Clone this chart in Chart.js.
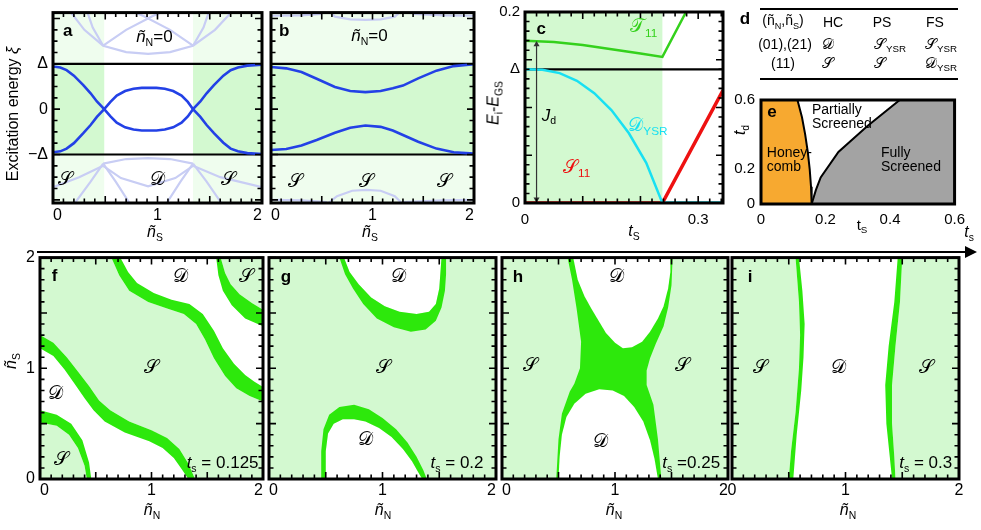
<!DOCTYPE html>
<html lang="en">
<head>
<meta charset="UTF-8" />
<title>YSR screening phases</title>
<script src="https://cdn.jsdelivr.net/npm/chart.js@4.4.0/dist/chart.umd.min.js"></script>
<style>
  body { margin: 0; background: #fff; }
  #fig { position: relative; width: 981px; height: 530px; overflow: hidden; background: #fff;
         font-family: 'Liberation Sans', Arial, sans-serif; color: #000; }
  #fig canvas { position: absolute; }
  .t { position: absolute; white-space: nowrap; line-height: 1; }
  .t sub { font-size: 65%; vertical-align: -0.35em; }
  .sc { font-family: 'DejaVu Serif', 'DejaVu Sans', serif; }
  .rule { position: absolute; background: #000; }
</style>
</head>
<body>
<div id="fig"></div>
<script>
// ---- panels a, b : sub-gap levels vs n_S at n_N = 0 (energy in units of Delta)
const DELTA = 1;
const nTicks = [0, 1, 2];
const gapTicks = [-1, 0, 1];
const gapLabels = ['\u2212\u0394', '0', '\u0394'];
const abYRange = [-2.07, 2.13];
const aSinglet = [[0, 0.49], [1.34, 2]];
const aLevelUp = [[0,0.94],[0.07,0.92],[0.13,0.86],[0.2,0.74],[0.29,0.53],[0.36,0.35],[0.42,0.17],[0.49,0],[0.55,-0.16],[0.61,-0.3],[0.69,-0.4],[0.77,-0.45],[0.85,-0.47],[0.92,-0.47],[0.99,-0.47],[1.07,-0.45],[1.15,-0.4],[1.23,-0.3],[1.29,-0.16],[1.34,0],[1.41,0.17],[1.47,0.35],[1.54,0.53],[1.63,0.74],[1.7,0.86],[1.77,0.92],[1.86,0.96],[2,0.98]];
const aLevelDn = [[0,-0.95],[0.07,-0.93],[0.13,-0.87],[0.2,-0.75],[0.29,-0.53],[0.36,-0.35],[0.42,-0.17],[0.49,0],[0.55,0.16],[0.61,0.3],[0.69,0.4],[0.77,0.45],[0.85,0.47],[0.92,0.47],[0.99,0.47],[1.07,0.45],[1.15,0.4],[1.23,0.3],[1.29,0.16],[1.34,0],[1.41,-0.17],[1.47,-0.35],[1.54,-0.53],[1.63,-0.74],[1.7,-0.87],[1.77,-0.93],[1.86,-0.97],[2,-0.99]];
const aGhost = [
  [[0.16,2.17],[0.3,1.75],[0.48,1.4],[0.7,1.26],[0.91,1.22],[1.12,1.26],[1.34,1.4],[1.55,1.75],[1.72,2.17]],
  [[0.48,1.4],[0.7,1.75],[0.95,2.05],[1.1,2.2]],
  [[1.34,1.4],[1.12,1.75],[0.87,2.05],[0.72,2.2]],
  [[0.48,1.4],[0.38,1.8],[0.32,2.2]],
  [[1.34,1.4],[1.44,1.8],[1.5,2.2]],
  [[0.48,-1.2],[0.7,-1.1],[0.91,-1.08],[1.12,-1.1],[1.34,-1.2]],
  [[0.48,-1.25],[0.65,-1.52],[0.91,-1.7],[1.17,-1.52],[1.34,-1.25]],
  [[0.48,-1.2],[0.36,-1.6],[0.2,-2.1]],
  [[0.48,-1.2],[0.6,-1.6],[0.74,-2.1]],
  [[1.34,-1.2],[1.22,-1.6],[1.08,-2.1]],
  [[1.34,-1.2],[1.47,-1.6],[1.62,-2.1]],
  [[1.34,-1.25],[1.6,-1.5],[2,-1.72]],
  [[0,-1.72],[0.25,-1.5],[0.48,-1.25]]
];
const bLevelUp = [[0,0.93],[0.15,0.9],[0.3,0.82],[0.45,0.67],[0.63,0.49],[0.78,0.4],[0.93,0.375],[1.08,0.4],[1.2,0.46],[1.3,0.52],[1.45,0.68],[1.63,0.85],[1.8,0.95],[2,0.99]];
const bLevelDn = [[0,-0.9],[0.15,-0.88],[0.3,-0.8],[0.45,-0.68],[0.63,-0.52],[0.78,-0.41],[0.93,-0.36],[1.08,-0.39],[1.2,-0.47],[1.3,-0.57],[1.45,-0.72],[1.63,-0.87],[1.8,-0.95],[2,-0.98]];
const bGhost = [
  [[0.55,2.2],[0.63,2.04],[0.78,1.98],[0.93,1.97],[1.08,1.98],[1.22,2.04],[1.3,2.2]],
  [[0,2.06],[0.3,2.07],[0.5,2.1]],
  [[1.4,2.1],[1.7,2.07],[2,2.06]],
  [[0.55,-2.1],[0.65,-1.92],[0.8,-1.8],[0.94,-1.78],[1.08,-1.8],[1.22,-1.92],[1.3,-2.1]],
  [[0,-2.0],[0.3,-2.01],[0.55,-2.05]],
  [[1.3,-2.05],[1.7,-2.01],[2,-2.0]]
];

// ---- panel c : E_i - E_GS vs t_s
const cXRange = [0, 0.343];
const cYRange = [0, 0.2];
const cXTicks = [0, 0.3];
const cYTicks = [0, 0.14, 0.2];
const cYLabels = ['0', '\u0394', '0.2'];
const cDelta = 0.14;
const cTrans = 0.238;
const cT11 = [[0,0.170],[0.05,0.1685],[0.1,0.1655],[0.15,0.161],[0.2,0.1565],[0.238,0.153],[0.279,0.2],[0.29,0.213]];
const cDysr = [[0,0.14],[0.03,0.1395],[0.06,0.136],[0.09,0.128],[0.12,0.115],[0.15,0.097],[0.18,0.073],[0.21,0.042],[0.238,0]];
const cDysrFlat = [[0.238,0],[0.343,0]];
const cS11 = [[0,0],[0.238,0],[0.343,0.118]];
const cJd = [[0.02,0.004],[0.02,0.166]];

// ---- panel e : phase diagram t_d vs t_s
const eRange = [0, 0.6];
const eTicks = [0, 0.2, 0.4, 0.6];
const eYLabels = ['0', '0.2', '', '0.6'];
const eHCedge = [[0.113,0.6],[0.127,0.5],[0.137,0.4],[0.145,0.3],[0.151,0.2],[0.155,0.1],[0.157,0]];
const eFSedge = [[0.157,0],[0.17,0.08],[0.185,0.153],[0.24,0.3],[0.33,0.45],[0.43,0.6]];

// ---- panels f-i : ground state map over (n_N, n_S)
const mapRange = [0, 2];
const fBand1Out = [[0,0.62],[0.15,0.58],[0.28,0.5],[0.38,0.35],[0.44,0.15],[0.46,0]];
const fBand1In = [[0,0.51],[0.15,0.48],[0.26,0.4],[0.34,0.28],[0.4,0.12],[0.42,0]];
const fBand2Top = [[0,1.3],[0.12,1.23],[0.24,1.1],[0.34,0.97],[0.44,0.84],[0.53,0.71],[0.63,0.62],[0.8,0.52],[1.0,0.44],[1.14,0.37],[1.25,0.27],[1.33,0.14],[1.39,0]];
const fBand2Bot = [[0,1.18],[0.12,1.11],[0.22,0.99],[0.31,0.86],[0.4,0.73],[0.48,0.62],[0.58,0.52],[0.76,0.42],[0.98,0.34],[1.1,0.28],[1.2,0.19],[1.27,0.09],[1.33,0]];
const fBand3Top = [[0.72,2],[0.79,1.87],[0.87,1.77],[1.02,1.68],[1.18,1.62],[1.34,1.58],[1.46,1.49],[1.56,1.34],[1.64,1.18],[1.74,1.04],[1.84,0.94],[1.92,0.88],[2,0.83]];
const fBand3Bot = [[0.64,2],[0.71,1.84],[0.8,1.7],[0.97,1.6],[1.14,1.54],[1.29,1.49],[1.4,1.4],[1.48,1.26],[1.56,1.09],[1.66,0.93],[1.76,0.82],[1.88,0.75],[2,0.7]];
const fBand4Out = [[1.58,2],[1.6,1.84],[1.64,1.7],[1.72,1.57],[1.84,1.45],[2,1.38]];
const fBand4In = [[1.62,2],[1.66,1.86],[1.71,1.76],[1.79,1.67],[1.9,1.59],[2,1.53]];
const gTopOut = [[0.62,2],[0.67,1.85],[0.74,1.72],[0.83,1.58],[0.95,1.45],[1.1,1.37],[1.25,1.33],[1.38,1.35],[1.47,1.43],[1.52,1.55],[1.55,1.7],[1.56,1.85],[1.56,2]];
const gTopIn = [[0.66,2],[0.71,1.87],[0.79,1.76],[0.9,1.64],[1.02,1.56],[1.15,1.51],[1.3,1.49],[1.41,1.51],[1.47,1.58],[1.5,1.72],[1.51,1.86],[1.52,2]];
const gBotOut = [[0.46,0],[0.46,0.25],[0.48,0.45],[0.53,0.58],[0.62,0.65],[0.75,0.67],[0.88,0.63],[1.0,0.55],[1.12,0.45],[1.22,0.33],[1.3,0.2],[1.36,0.08],[1.39,0]];
const gBotIn = [[0.5,0],[0.5,0.25],[0.52,0.41],[0.57,0.5],[0.65,0.54],[0.75,0.54],[0.85,0.52],[0.97,0.46],[1.08,0.38],[1.18,0.27],[1.26,0.16],[1.31,0.07],[1.35,0]];
const hOuterL = [[0.58,2],[0.62,1.8],[0.66,1.54],[0.7,1.24],[0.69,1.0],[0.64,0.86],[0.6,0.79],[0.53,0.59],[0.5,0.36],[0.48,0]];
const hOuterR = [[1.41,0],[1.38,0.36],[1.34,0.67],[1.28,0.85],[1.28,0.98],[1.31,1.09],[1.36,1.22],[1.43,1.38],[1.47,1.55],[1.5,1.75],[1.51,2]];
const hTopD = [[0.63,2],[0.67,1.8],[0.73,1.65],[0.79,1.54],[0.86,1.42],[0.92,1.32],[1.0,1.23],[1.07,1.18],[1.15,1.19],[1.24,1.24],[1.31,1.33],[1.38,1.45],[1.43,1.56],[1.47,1.72],[1.49,1.87],[1.49,2]];
const hBotD = [[0.5,0],[0.51,0.2],[0.53,0.4],[0.57,0.56],[0.64,0.68],[0.74,0.77],[0.86,0.81],[0.98,0.8],[1.08,0.75],[1.17,0.65],[1.25,0.52],[1.31,0.35],[1.35,0.18],[1.38,0]];
const iBand1L = [[0.56,2],[0.59,1.6],[0.6,1.3],[0.59,1.0],[0.56,0.6],[0.52,0.25],[0.5,0]];
const iBand1R = [[0.59,2],[0.62,1.7],[0.64,1.4],[0.63,1.1],[0.61,0.8],[0.57,0.4],[0.54,0]];
const iBand2L = [[1.46,2],[1.43,1.6],[1.38,1.2],[1.35,0.85],[1.36,0.5],[1.39,0.2],[1.41,0]];
const iBand2R = [[1.5,2],[1.48,1.6],[1.44,1.2],[1.41,0.85],[1.41,0.5],[1.43,0.2],[1.44,0]];

// ---------------------------------------------------------------
const FAM = "'Liberation Sans', Arial, sans-serif";
const SCF = "'DejaVu Serif', 'DejaVu Sans', serif";
const LG = '#d3f9d0', LG2 = '#effdee', BAND = '#2de80c', BLUE = '#2341e6', GHOST = '#c8cdf4';
const fig = document.getElementById('fig');

const pts = a => a.map(p => ({ x: p[0], y: p[1] }));
const poly = (a, col) => ({ data: pts(a), fill: 'shape', backgroundColor: col, borderWidth: 0, pointRadius: 0 });
const line = (a, col, w) => ({ data: pts(a), fill: false, borderColor: col, borderWidth: w, pointRadius: 0 });
const rect = (x0, x1, y0, y1) => [[x0, y0], [x1, y0], [x1, y1], [x0, y1]];
const band = (e1, e2) => e1.concat(e2.slice().reverse());

// text pieces for canvas notes
const SC = (ch, x, y, size) => ({ x, y, size: size || 19, parts: [{ t: ch, sc: true }] });
const TS = (val, x, y) => ({ x, y, size: 17, align: 'right', parts: [{ t: 't', i: true }, { t: 's', sub: true }, { t: val }] });
const LETTER = (ch, x, y) => ({ x, y, size: 17, parts: [{ t: ch, b: true }] });

function framePlugin(t) {
  return {
    id: 'frame',
    afterDatasetsDraw(ch) {
      const { ctx, chartArea: a, scales: { x, y } } = ch;
      ctx.save();
      ctx.strokeStyle = '#000';
      if (t) {
        ctx.lineWidth = 1.6;
        ctx.beginPath();
        const walk = (sc, step, major, fn) => {
          for (let v = Math.ceil(sc.min / step - 1e-9) * step; v <= sc.max + 1e-9; v += step) {
            const m = Math.abs(v / major - Math.round(v / major)) < 1e-6;
            fn(sc.getPixelForValue(v), m ? 7 : 4.5);
          }
        };
        walk(x, t.x[0], t.x[1], (p, L) => { ctx.moveTo(p, a.bottom); ctx.lineTo(p, a.bottom - L); ctx.moveTo(p, a.top); ctx.lineTo(p, a.top + L); });
        walk(y, t.y[0], t.y[1], (p, L) => { ctx.moveTo(a.left, p); ctx.lineTo(a.left + L, p); ctx.moveTo(a.right, p); ctx.lineTo(a.right - L, p); });
        ctx.stroke();
      }
      ctx.lineWidth = 3;
      ctx.strokeRect(a.left, a.top, a.right - a.left, a.bottom - a.top);
      ctx.restore();
    }
  };
}

function notesPlugin(items) {
  return {
    id: 'notes',
    afterDraw(ch) {
      const { ctx, scales: { x, y } } = ch;
      ctx.save();
      ctx.textBaseline = 'middle';
      ctx.textAlign = 'left';
      (items || []).forEach(n => {
        const fs = n.size || 16;
        const segs = n.parts.map(p => {
          const s = p.sub ? fs * 0.62 : fs;
          const f = (p.i ? 'italic ' : '') + (p.b ? 'bold ' : '') + s + 'px ' + (p.sc ? SCF : FAM);
          ctx.font = f;
          return { p, f, w: ctx.measureText(p.t).width };
        });
        const W = segs.reduce((s, g) => s + g.w, 0);
        let px = x.getPixelForValue(n.x);
        if (n.align === 'right') px -= W; else if (n.align !== 'left') px -= W / 2;
        const py = y.getPixelForValue(n.y);
        ctx.fillStyle = n.color || '#000';
        segs.forEach(g => {
          ctx.font = g.f;
          ctx.fillText(g.p.t, px, g.p.sub ? py + fs * 0.32 : py);
          px += g.w;
        });
      });
      ctx.restore();
    }
  };
}

function axis(range, vals, labels, fs, pad, align, fit) {
  return {
    type: 'linear', min: range[0], max: range[1],
    afterBuildTicks: s => { s.ticks = vals.map(v => ({ value: v })); },
    afterFit: fit,
    grid: { display: false, drawTicks: false },
    border: { display: false },
    ticks: {
      callback: (v, i) => labels[i], color: '#000', font: { family: FAM, size: fs },
      padding: pad, maxRotation: 0, autoSkip: false, align: align
    }
  };
}

function makePanel(c) {
  const padT = 12, padR = 14;
  const w = c.r - c.l + c.yw + padR, h = c.b - c.t + padT + c.xh;
  const cv = document.createElement('canvas');
  cv.width = w; cv.height = h;
  cv.style.left = (c.l - c.yw) + 'px'; cv.style.top = (c.t - padT) + 'px';
  cv.style.width = w + 'px'; cv.style.height = h + 'px';
  fig.appendChild(cv);
  const n = c.sets.length;
  c.sets.forEach((d, i) => { d.order = n - i; });   // first listed = bottom
  new Chart(cv, {
    type: 'line',
    data: { datasets: c.sets },
    options: {
      responsive: false, animation: false, events: [],
      layout: { padding: { top: padT, right: padR, left: 0, bottom: 0 } },
      plugins: { legend: { display: false }, tooltip: { enabled: false } },
      scales: {
        x: axis(c.xr, c.xt, c.xl, c.fs || 16, c.xPad || 3, c.xAlign || 'center', s => { s.height = c.xh; }),
        y: axis(c.yr, c.yt, c.yl, c.fs || 16, c.yPad || 5, 'center', s => { s.width = c.yw; })
      }
    },
    plugins: [framePlugin(c.ticks), notesPlugin(c.notes)]
  });
}

function label(html, x, y, size, rot) {
  const d = document.createElement('div');
  d.className = 't';
  d.innerHTML = html;
  d.style.left = x + 'px'; d.style.top = y + 'px'; d.style.fontSize = size + 'px';
  d.style.transform = 'translate(-50%,-50%)' + (rot ? ' rotate(-90deg)' : '');
  fig.appendChild(d);
}
function rule(x, y, w, h) {
  const d = document.createElement('div');
  d.className = 'rule';
  Object.assign(d.style, { left: x + 'px', top: y + 'px', width: w + 'px', height: h + 'px' });
  fig.appendChild(d);
}

const nLabels = nTicks.map(String);
const nN0 = (x, y) => ({ x, y, size: 17, parts: [{ t: '\u00f1', i: true }, { t: 'N', sub: true }, { t: '=0' }] });
const abTicks = { x: [0.1, 0.5], y: [0.25, 1] };
const mapTicks = { x: [0.1, 0.5], y: [0.1, 0.5] };
const deltaLines = [line([[0, DELTA], [2, DELTA]], '#000', 2.2), line([[0, -DELTA], [2, -DELTA]], '#000', 2.2)];

// a
makePanel({
  l: 53, t: 10, r: 262, b: 203, yw: 40, xh: 24, xAlign: 'inner',
  xr: [0, 2], xt: nTicks, xl: nLabels, yr: abYRange, yt: gapTicks, yl: gapLabels, ticks: abTicks,
  sets: [
    ...aSinglet.map(s => poly(rect(s[0], s[1], abYRange[0], abYRange[1]), LG2)),
    ...aSinglet.map(s => poly(rect(s[0], s[1], -DELTA, DELTA), LG)),
    ...aGhost.map(g => line(g, GHOST, 2.2)),
    ...deltaLines,
    line(aLevelUp, BLUE, 2.6), line(aLevelDn, BLUE, 2.6)
  ],
  notes: [LETTER('a', 0.14, 1.72), nN0(0.97, 1.58), SC('\ud835\udcae', 0.12, -1.57), SC('\ud835\udc9f', 1.0, -1.57), SC('\ud835\udcae', 1.68, -1.57)]
});
// b
makePanel({
  l: 271, t: 10, r: 474, b: 203, yw: 8, xh: 24, xAlign: 'inner',
  xr: [0, 2], xt: nTicks, xl: nLabels, yr: abYRange, yt: gapTicks, yl: ['', '', ''], ticks: abTicks,
  sets: [
    poly(rect(0, 2, abYRange[0], abYRange[1]), LG2),
    poly(rect(0, 2, -DELTA, DELTA), LG),
    ...bGhost.map(g => line(g, GHOST, 2.2)),
    ...deltaLines,
    line(bLevelUp, BLUE, 2.6), line(bLevelDn, BLUE, 2.6)
  ],
  notes: [LETTER('b', 0.13, 1.72), nN0(0.97, 1.6), SC('\ud835\udcae', 0.24, -1.6), SC('\ud835\udcae', 0.94, -1.6), SC('\ud835\udcae', 1.71, -1.6)]
});
// c
makePanel({
  l: 525, t: 10, r: 723, b: 203, yw: 34, xh: 30, xPad: 8, fs: 15,
  xr: cXRange, xt: cXTicks, xl: ['0', '0.3'], yr: cYRange, yt: cYTicks, yl: cYLabels,
  ticks: { x: [0.02, 0.1], y: [0.01, 0.05] },
  sets: [
    poly(rect(0, cTrans, cYRange[0], cYRange[1]), LG),
    line([[0, cDelta], [cXRange[1], cDelta]], '#000', 2.2),
    line(cDysrFlat, '#19e0f2', 3.5),
    line(cS11, '#ee1111', 3.5),
    line(cDysr, '#19e0f2', 2.5),
    line(cT11, '#34d11c', 2.5),
    { data: pts(cJd), fill: false, borderColor: '#333', borderWidth: 1.2, pointStyle: 'triangle',
      pointRadius: 3.5, pointRotation: [180, 0], pointBackgroundColor: '#333', pointBorderWidth: 0 }
  ],
  notes: [
    LETTER('c', 0.028, 0.182),
    { x: 0.182, y: 0.184, size: 19, align: 'left', color: '#34d11c', parts: [{ t: '\ud835\udcaf', sc: true }, { t: '11', sub: true }] },
    { x: 0.179, y: 0.081, size: 19, align: 'left', color: '#19e0f2', parts: [{ t: '\ud835\udc9f', sc: true }, { t: 'YSR', sub: true }] },
    { x: 0.066, y: 0.037, size: 19, align: 'left', color: '#ee1111', parts: [{ t: '\ud835\udcae', sc: true }, { t: '11', sub: true }] },
    { x: 0.029, y: 0.091, size: 17, align: 'left', parts: [{ t: 'J', i: true }, { t: 'd', sub: true }] }
  ]
});
// e
makePanel({
  l: 761, t: 97, r: 958, b: 204, yw: 34, xh: 30, xPad: 7, fs: 15, yPad: 6,
  xr: eRange, xt: eTicks, xl: ['0', '0.2', '0.4', '0.6'], yr: eRange, yt: eTicks, yl: eYLabels, ticks: null,
  sets: [
    poly([[0, eRange[1]]].concat(eHCedge, [[0, 0]]), '#f7a930'),
    poly(eFSedge.concat([[eRange[1], eRange[1]], [eRange[1], 0]]), '#a3a3a3'),
    line(eHCedge, '#000', 2), line(eFSedge, '#000', 2)
  ],
  notes: [
    LETTER('e', 0.034, 0.527),
    { x: 0.018, y: 0.293, size: 14, align: 'left', parts: [{ t: 'Honey-' }] },
    { x: 0.018, y: 0.21, size: 14, align: 'left', parts: [{ t: 'comb' }] },
    { x: 0.158, y: 0.54, size: 14, align: 'left', parts: [{ t: 'Partially' }] },
    { x: 0.158, y: 0.46, size: 14, align: 'left', parts: [{ t: 'Screened' }] },
    { x: 0.372, y: 0.293, size: 14, align: 'left', parts: [{ t: 'Fully' }] },
    { x: 0.372, y: 0.21, size: 14, align: 'left', parts: [{ t: 'Screened' }] }
  ]
});
// f - i
const mapBase = { t: 255, b: 479, xh: 24, xPad: 2, xr: mapRange, xt: nTicks, xl: nLabels, yr: mapRange, yt: nTicks, ticks: mapTicks };
const full = rect(0, 2, 0, 2);
makePanel(Object.assign({}, mapBase, {
  l: 40, r: 263, yw: 30, yl: nLabels, xAlign: 'inner',
  sets: [
    poly(full, LG),
    poly(band(fBand2Top, fBand1In), '#fff'),
    poly(band(fBand3Bot, fBand4In), '#fff'),
    poly(band(fBand1Out, fBand1In), BAND), poly(band(fBand2Top, fBand2Bot), BAND),
    poly(band(fBand3Top, fBand3Bot), BAND), poly(band(fBand4Out, fBand4In), BAND)
  ],
  notes: [LETTER('f', 0.13, 1.83), SC('\ud835\udc9f', 1.26, 1.82), SC('\ud835\udcae', 1.85, 1.82), SC('\ud835\udcae', 1.0, 1.0),
          SC('\ud835\udc9f', 0.14, 0.77), SC('\ud835\udcae', 0.19, 0.17), TS(' = 0.125', 1.96, 0.14)]
}));
makePanel(Object.assign({}, mapBase, {
  l: 269, r: 496, yw: 8, yl: ['', '', ''], xAlign: 'inner',
  sets: [
    poly(full, LG), poly(gTopIn, '#fff'), poly(gBotIn, '#fff'),
    poly(band(gTopOut, gTopIn), BAND), poly(band(gBotOut, gBotIn), BAND)
  ],
  notes: [LETTER('g', 0.15, 1.82), SC('\ud835\udc9f', 1.14, 1.82), SC('\ud835\udcae', 1.01, 1.0), SC('\ud835\udc9f', 0.85, 0.35), TS(' = 0.2', 1.89, 0.14)]
}));
makePanel(Object.assign({}, mapBase, {
  l: 502, r: 728, yw: 8, yl: ['', '', ''], xAlign: 'inner',
  sets: [
    poly(full, LG), poly(band(hOuterL, hOuterR.slice().reverse()), BAND),
    poly(hTopD, '#fff'), poly(hBotD, '#fff')
  ],
  notes: [LETTER('h', 0.14, 1.82), SC('\ud835\udc9f', 1.01, 1.82), SC('\ud835\udcae', 0.25, 1.02), SC('\ud835\udcae', 1.6, 1.02), SC('\ud835\udc9f', 0.87, 0.33), TS(' =0.25', 1.93, 0.14)]
}));
makePanel(Object.assign({}, mapBase, {
  l: 732, r: 959, yw: 8, yl: ['', '', ''], xAlign: 'center',
  sets: [
    poly(full, LG), poly(band(iBand1L, iBand2R), '#fff'),
    poly(band(iBand1L, iBand1R), BAND), poly(band(iBand2L, iBand2R), BAND)
  ],
  notes: [LETTER('i', 0.16, 1.82), SC('\ud835\udcae', 0.25, 1.0), SC('\ud835\udc9f', 0.94, 1.0), SC('\ud835\udcae', 1.71, 1.0), TS(' = 0.3', 1.94, 0.14)]
}));

// axis titles and the table of panel d
const nS = '<i>\u00f1</i><sub>S</sub>', nN = '<i>\u00f1</i><sub>N</sub>';
label('Excitation energy <i>\u03be</i>', 13, 114, 16, true);
label(nS, 155, 234, 16); label(nS, 370, 234, 16);
label('<i>t</i><sub>S</sub>', 634, 233, 16);
label('<i>E</i><sub>i</sub>-<i>E</i><sub>GS</sub>', 495, 103, 16, true);
label('<i>t</i><sub>d</sub>', 742, 130, 16, true);
label('t<sub>S</sub>', 862, 226, 15);
label('<i>t</i><sub>s</sub>', 969, 234, 16);
[152, 383, 614, 848].forEach(x => label(nN, x, 512, 16));
label(nS, 13, 361, 16, true);

rule(37, 251, 930, 2);
const head = document.createElement('div');
Object.assign(head.style, { position: 'absolute', left: '965px', top: '246px', width: 0, height: 0,
  borderLeft: '12px solid #000', borderTop: '6px solid transparent', borderBottom: '6px solid transparent' });
fig.appendChild(head);

const S_ = '<span class="sc">\ud835\udcae</span>', D_ = '<span class="sc">\ud835\udc9f</span>', YSR = '<sub>YSR</sub>';
label('<b>d</b>', 745, 18, 17);
rule(760, 8, 198, 2); rule(760, 78, 198, 2);
label('(\u00f1<sub>N</sub>,\u00f1<sub>S</sub>)', 783, 22, 14);
label('HC', 833, 22, 14); label('PS', 882, 22, 14); label('FS', 935, 22, 14);
label('(01),(21)', 785, 44, 14); label(D_, 828, 44, 15); label(S_ + YSR, 890, 45, 15); label(S_ + YSR, 941, 45, 15);
label('(11)', 783, 63, 14); label(S_, 828, 63, 15); label(S_, 880, 63, 15); label(D_ + YSR, 941, 64, 15);
</script>
</body>
</html>
